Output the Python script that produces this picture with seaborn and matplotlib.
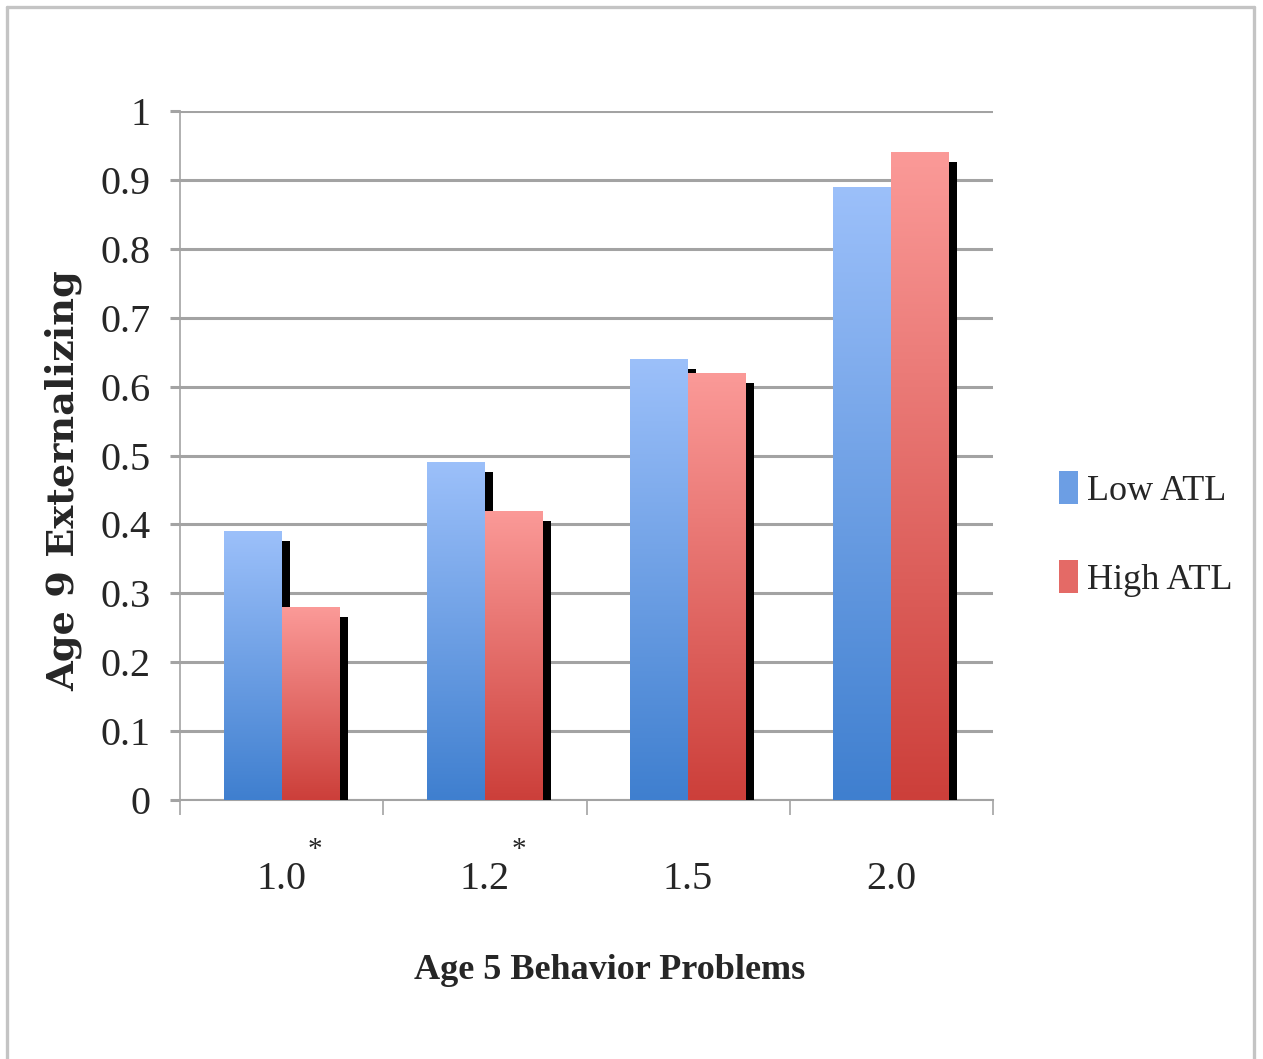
import numpy as np
import pandas as pd
import matplotlib
matplotlib.use("Agg")
import matplotlib.pyplot as plt
import matplotlib.patheffects as pe
from matplotlib.colors import LinearSegmentedColormap
from matplotlib.patches import Patch
from matplotlib.lines import Line2D
import seaborn as sns

# data
behavior_levels = ["1.0", "1.2", "1.5", "2.0"]
significant = [True, True, False, False]
low_atl = [0.39, 0.49, 0.64, 0.89]
high_atl = [0.28, 0.42, 0.62, 0.94]
groups = ["Low ATL", "High ATL"]
y_ticks = [0, 0.1, 0.2, 0.3, 0.4, 0.5, 0.6, 0.7, 0.8, 0.9, 1]

# colours: (top, bottom) of the vertical gradient
grad_colors = {"Low ATL": ("#9cc0fa", "#3f7fcf"), "High ATL": ("#fb9a98", "#cc3f3a")}
mid_colors = {"Low ATL": "#6c9ee4", "High ATL": "#e46a66"}

df = pd.DataFrame({
    "level": behavior_levels * 2,
    "value": low_atl + high_atl,
    "group": [groups[0]] * 4 + [groups[1]] * 4,
})

sns.set_theme(style="white")
plt.rcParams["font.family"] = ["Liberation Serif", "DejaVu Serif"]

W, H = 1263, 1059
fig = plt.figure(figsize=(W / 100, H / 100), dpi=100)
ax = fig.add_axes([180 / W, 1 - 800 / H, 813 / W, 689 / H])

sns.barplot(data=df, x="level", y="value", hue="group", palette=mid_colors,
            width=0.57, saturation=1, ax=ax, legend=False, zorder=3)

# drop shadow + gradient fill on every bar
for container, g in zip(ax.containers, groups):
    top, bot = grad_colors[g]
    cmap = LinearSegmentedColormap.from_list(g, [bot, top])
    for rect in container:
        rect.set_edgecolor("none")
        rect.set_path_effects([pe.SimplePatchShadow(offset=(5.8, -7.2), shadow_rgbFace="black", alpha=1.0),
                               pe.Normal()])
        x0, w, h = rect.get_x(), rect.get_width(), rect.get_height()
        grad = np.linspace(0, 1, 256).reshape(-1, 1)
        im = ax.imshow(grad, extent=[x0, x0 + w, 0, h], origin="lower", aspect="auto",
                       cmap=cmap, zorder=4)
        im.set_clip_path(rect)

ax.set_xlim(-0.5, 3.5)
ax.set_ylim(0, 1)
ax.set_yticks(y_ticks)
ax.set_yticklabels([f"{v:g}" for v in y_ticks], fontsize=29)

gray = "#a3a3a3"
ax.yaxis.grid(True, color=gray, linewidth=2.2)
ax.set_axisbelow(True)
for s in ["top", "right"]:
    ax.spines[s].set_visible(False)
ax.spines["left"].set_color(gray)
ax.spines["left"].set_linewidth(1.2)
ax.spines["bottom"].set_color(gray)
ax.spines["bottom"].set_linewidth(1.5)
ax.tick_params(axis="y", length=7, width=2.2, color=gray, pad=14, left=True)

ax.set_xticks(range(len(behavior_levels)))
ax.set_xticklabels(behavior_levels, fontsize=29)
ax.set_xticks(np.arange(-0.5, len(behavior_levels)), minor=True)
ax.tick_params(axis="x", which="major", length=0, pad=44)
ax.tick_params(axis="x", which="minor", length=11, width=1.2, color=gray, bottom=True)

for i, sig in enumerate(significant):
    if sig:
        ax.text(i + 0.165, -0.072, "*", ha="center", va="center", fontsize=21,
                transform=ax.transData, clip_on=False)

ax.set_xlabel("Age 5 Behavior Problems", fontsize=26, fontweight="bold", labelpad=40)
ax.xaxis.label.set_x(0.529)
ax.set_ylabel("Age 9 Externalizing", fontsize=27.5, fontweight="bold",
              fontfamily="DejaVu Serif")
ax.yaxis.set_label_coords(-0.12, 0.463)

handles = [Patch(facecolor=mid_colors[g], edgecolor="none") for g in groups]
fig.legend(handles, groups, loc="center left", bbox_to_anchor=(1026 / W, 1 - 534 / H),
           frameon=False, fontsize=26, handlelength=0.55, handleheight=1.0,
           handletextpad=0.25, labelspacing=1.45)

# light grey frame around the whole picture
for xs, ys in [([7, 7], [1080, 7]), ([7, 1254], [7, 7]), ([1254, 1254], [7, 1080])]:
    fig.add_artist(Line2D([x / W for x in xs], [1 - y / H for y in ys],
                          color="#c4c4c4", linewidth=2.4, transform=fig.transFigure))

fig.savefig("out.png", dpi=100)
